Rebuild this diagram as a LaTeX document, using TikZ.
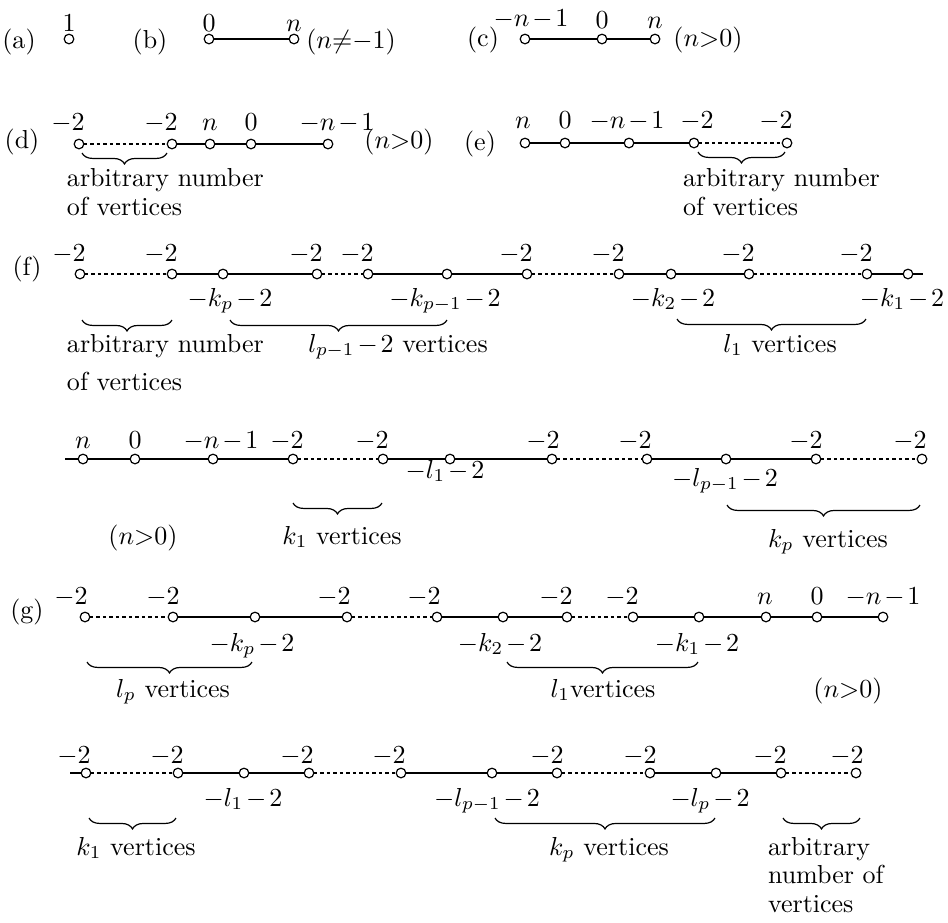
\documentclass[tikz,border=0pt]{standalone}
\usetikzlibrary{decorations.pathreplacing}
\newcommand\Vx[3]{\node[vtx] (#1) at (#2,#3) {};}
\newcommand\Lb[4]{\node[lab] (#1) at (#2,#3) {#4};}
\newcommand\Tw[4]{\node[txt] (#1) at (#2,#3) {#4};}
\newcommand\bmi{\mkern2mu{-}\mkern2mu}
\begin{document}
\begin{tikzpicture}[x=0.3846pt,y=-0.3846pt,
  every node/.style={font=\fontsize{10}{12}\selectfont, inner sep=0pt, outer sep=0pt},
  vtx/.style={circle, draw, line width=0.46pt, minimum size=3.7pt, inner sep=0pt, fill=white},
  sol/.style={line width=0.73pt},
  dsh/.style={line width=0.46pt, dash pattern=on 1.4pt off 1.1pt},
  brc/.style={decorate, decoration={brace, mirror, amplitude=4.2pt}, line width=0.46pt},
  lab/.style={anchor=base},
  txt/.style={anchor=base west},
]
\useasboundingbox (0,0) rectangle (948,923);

% ---------- row 1 : (a) (b) (c)
\Lb{la}{19}{48}{(a)}
\Vx{a1}{69}{39}
\Lb{a1l}{69}{31}{$1$}
\Lb{lbb}{150}{48}{(b)}
\Vx{b1}{209}{39}\Vx{b2}{294}{39}
\draw[sol] (b1) -- (b2);
\Lb{b1l}{209}{31}{$0$}\Lb{b2l}{294}{31}{$n$}
\Lb{bc}{351}{48}{$(n{\neq}{-1})$}
\Lb{lc}{483}{46}{(c)}
\Vx{c1}{525}{39}\Vx{c2}{602}{39}\Vx{c3}{655}{39}
\draw[sol] (c1) -- (c2) -- (c3);
\Lb{c1l}{531}{26}{$-n\bmi 1$}\Lb{c2l}{602}{28}{$0$}\Lb{c3l}{655}{28}{$n$}
\Lb{cc}{708}{46}{$(n{>}0)$}

% ---------- row (d)
\Lb{ld}{22}{148}{(d)}
\Vx{d1}{79}{144}\Vx{d2}{172}{144}\Vx{d3}{210}{144}\Vx{d4}{251}{144}\Vx{d5}{328}{144}
\draw[dsh] (d1) -- (d2);
\draw[sol] (d2) -- (d3) -- (d4) -- (d5);
\Lb{d1l}{68}{130}{$-2$}\Lb{d2l}{161}{130}{$-2$}\Lb{d3l}{210}{130}{$n$}
\Lb{d4l}{251}{130}{$0$}\Lb{d5l}{337}{130}{$-n\bmi 1$}
\Lb{dc}{399}{148}{$(n{>}0)$}
\draw[brc] (82,153) -- (167,153);
\Tw{dt1}{67}{186}{arbitrary number}
\Tw{dt2}{67}{215}{of vertices}

% ---------- row (e)
\Lb{le}{480}{150}{(e)}
\Vx{e1}{525}{143}\Vx{e2}{565}{143}\Vx{e3}{629}{143}\Vx{e4}{694}{143}\Vx{e5}{787}{143}
\draw[sol] (e1) -- (e2) -- (e3) -- (e4);
\draw[dsh] (e4) -- (e5);
\Lb{e1l}{523}{128}{$n$}\Lb{e2l}{565}{128}{$0$}\Lb{e3l}{627}{128}{$-n\bmi 1$}
\Lb{e4l}{697}{128}{$-2$}\Lb{e5l}{776}{128}{$-2$}
\draw[brc] (698,152) -- (785,152);
\Tw{et1}{683}{186}{arbitrary number}
\Tw{et2}{683}{215}{of vertices}

% ---------- row (f), first line
\Lb{lf}{27}{275}{(f)}
\Vx{f1}{80}{274}\Vx{f2}{172}{274}\Vx{f3}{223}{274}\Vx{f4}{317}{274}
\Vx{f5}{368}{274}\Vx{f6}{447}{274}\Vx{f7}{527}{274}\Vx{f8}{619}{274}
\Vx{f9}{671}{274}\Vx{f10}{749}{274}\Vx{f11}{867}{274}\Vx{f12}{908}{274}
\coordinate (fe) at (923,274);
\draw[dsh] (f1) -- (f2);
\draw[sol] (f2) -- (f3) -- (f4);
\draw[dsh] (f4) -- (f5);
\draw[sol] (f5) -- (f6) -- (f7);
\draw[dsh] (f7) -- (f8);
\draw[sol] (f8) -- (f9) -- (f10);
\draw[dsh] (f10) -- (f11);
\draw[sol] (f11) -- (f12) -- (fe);
\Lb{f1l}{69}{261}{$-2$}\Lb{f2l}{161}{261}{$-2$}\Lb{f4l}{306}{261}{$-2$}\Lb{f5l}{357}{261}{$-2$}
\Lb{f7l}{516}{261}{$-2$}\Lb{f8l}{608}{261}{$-2$}\Lb{f10l}{738}{261}{$-2$}\Lb{f11l}{856}{261}{$-2$}
\Lb{f3b}{230}{306}{$-k_p\bmi 2$}
\Lb{f6b}{445}{306}{$-k_{p-1}\bmi 2$}
\Lb{f9b}{673}{306}{$-k_2\bmi 2$}
\Lb{f12b}{902}{306}{$-k_1\bmi 2$}
\draw[brc] (82,320) -- (172,320);
\draw[brc] (230,320) -- (447,320);
\draw[brc] (677,319) -- (866,319);
\Tw{ft1}{67}{352}{arbitrary number}
\Tw{ft2}{67}{390}{of vertices}
\Lb{ft3}{398}{352}{$l_{p-1}\bmi 2$ vertices}
\Lb{ft4}{780}{352}{$l_1$ vertices}

% ---------- row (f), second line
\coordinate (hs) at (65,459);
\Vx{h1}{83}{459}\Vx{h2}{135}{459}\Vx{h3}{213}{459}\Vx{h4}{293}{459}
\Vx{h5}{383}{459}\Vx{h6}{450}{459}\Vx{h7}{552}{459}\Vx{h8}{647}{459}
\Vx{h9}{726}{459}\Vx{h10}{816}{459}\Vx{h11}{922}{459}
\draw[sol] (hs) -- (h1) -- (h2) -- (h3) -- (h4);
\draw[dsh] (h4) -- (h5);
\draw[sol] (h5) -- (h6) -- (h7);
\draw[dsh] (h7) -- (h8);
\draw[sol] (h8) -- (h9) -- (h10);
\draw[dsh] (h10) -- (h11);
\Lb{h1l}{83}{448}{$n$}\Lb{h2l}{135}{448}{$0$}\Lb{h3l}{221}{448}{$-n\bmi 1$}
\Lb{h4l}{287}{448}{$-2$}\Lb{h5l}{372}{448}{$-2$}\Lb{h7l}{543}{448}{$-2$}
\Lb{h8l}{635}{448}{$-2$}\Lb{h10l}{806}{448}{$-2$}\Lb{h11l}{910}{448}{$-2$}
\Lb{h6b}{445}{478}{$-l_1\bmi 2$}
\Lb{h9b}{725}{486}{$-l_{p-1}\bmi 2$}
\draw[brc] (293,503) -- (382,503);
\draw[brc] (727,505) -- (920,505);
\Lb{ht1}{143}{544}{$(n{>}0)$}
\Lb{ht2}{342}{544}{$k_1$ vertices}
\Lb{ht3}{828}{547}{$k_p$ vertices}

% ---------- row (g), first line
\Lb{lg}{27}{618}{(g)}
\Vx{g1}{85}{617}\Vx{g2}{173}{617}\Vx{g3}{255}{617}\Vx{g4}{347}{617}
\Vx{g5}{437}{617}\Vx{g6}{503}{617}\Vx{g7}{567}{617}\Vx{g8}{633}{617}
\Vx{g9}{699}{617}\Vx{g10}{766}{617}\Vx{g11}{817}{617}\Vx{g12}{883}{617}
\draw[dsh] (g1) -- (g2);
\draw[sol] (g2) -- (g3) -- (g4);
\draw[dsh] (g4) -- (g5);
\draw[sol] (g5) -- (g6) -- (g7);
\draw[dsh] (g7) -- (g8);
\draw[sol] (g8) -- (g9) -- (g10) -- (g11) -- (g12);
\Lb{g1l}{71}{604}{$-2$}\Lb{g2l}{163}{604}{$-2$}\Lb{g4l}{334}{604}{$-2$}\Lb{g5l}{424}{604}{$-2$}
\Lb{g7l}{556}{604}{$-2$}\Lb{g8l}{622}{604}{$-2$}
\Lb{g10l}{765}{604}{$n$}\Lb{g11l}{817}{604}{$0$}\Lb{g12l}{883}{604}{$-n\bmi 1$}
\Lb{g3b}{252}{651}{$-k_p\bmi 2$}
\Lb{g6b}{500}{651}{$-k_2\bmi 2$}
\Lb{g9b}{697}{651}{$-k_1\bmi 2$}
\draw[brc] (87,662) -- (252,662);
\draw[brc] (507,662) -- (698,662);
\Lb{gt1}{173}{697}{$l_p$ vertices}
\Lb{gt2}{603}{697}{$l_1$vertices}
\Lb{gt3}{848}{697}{$(n{>}0)$}

% ---------- row (g), second line
\coordinate (ms) at (70,773);
\Vx{m1}{86}{773}\Vx{m2}{178}{773}\Vx{m3}{244}{773}\Vx{m4}{309}{773}
\Vx{m5}{401}{773}\Vx{m6}{492}{773}\Vx{m7}{557}{773}\Vx{m8}{650}{773}
\Vx{m9}{716}{773}\Vx{m10}{781}{773}\Vx{m11}{856}{773}
\draw[sol] (ms) -- (m1);
\draw[dsh] (m1) -- (m2);
\draw[sol] (m2) -- (m3) -- (m4);
\draw[dsh] (m4) -- (m5);
\draw[sol] (m5) -- (m6) -- (m7);
\draw[dsh] (m7) -- (m8);
\draw[sol] (m8) -- (m9) -- (m10);
\draw[dsh] (m10) -- (m11);
\Lb{m1l}{74}{763}{$-2$}\Lb{m2l}{167}{763}{$-2$}\Lb{m4l}{297}{763}{$-2$}\Lb{m5l}{389}{763}{$-2$}
\Lb{m7l}{547}{763}{$-2$}\Lb{m8l}{640}{763}{$-2$}\Lb{m10l}{770}{763}{$-2$}\Lb{m11l}{847}{763}{$-2$}
\Lb{m3b}{243}{806}{$-l_1\bmi 2$}
\Lb{m6b}{487}{806}{$-l_{p-1}\bmi 2$}
\Lb{m9b}{710}{806}{$-l_p\bmi 2$}
\draw[brc] (89,818) -- (176,818);
\draw[brc] (495,818) -- (715,818);
\draw[brc] (783,818) -- (860,818);
\Lb{mt1}{136}{855}{$k_1$ vertices}
\Lb{mt2}{609}{855}{$k_p$ vertices}
\Tw{mt3}{768}{855}{arbitrary}
\Tw{mt4}{768}{883}{number of}
\Tw{mt5}{768}{912}{vertices}
\end{tikzpicture}
\end{document}
